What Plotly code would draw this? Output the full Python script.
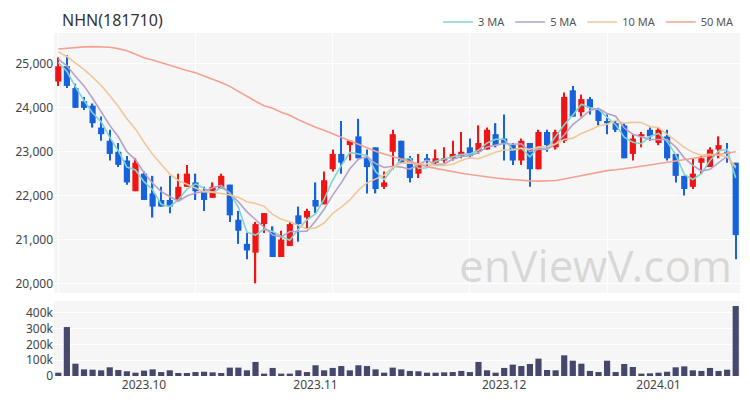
import plotly.graph_objects as go
import pandas as pd

# ---- data ----
day_index = list(range(80))
month_tick_index = [10, 30, 52, 70]
month_tick_labels = ["2023.10", "2023.11", "2023.12", "2024.01"]

open_ = [24600, 24950, 24450, 24150, 24050, 23550, 23250, 23000, 22800, 22100,
         22500, 22050, 21900, 21900, 21900, 22200, 22300, 22100, 21950, 22150,
         22250, 21450, 20900, 20700, 21350, 21150, 20600, 20850, 21550, 21500,
         21900, 21800, 22600, 22950, 23150, 23350, 22850, 23100, 22200, 23000,
         23250, 22850, 22500, 22850, 22750, 22800, 22850, 22900, 23100, 23000,
         23050, 23400, 23300, 23150, 22800, 23200, 22600, 23450, 23100, 23250,
         24400, 23900, 24200, 23950, 23700, 23650, 23600, 22950, 23350, 23500,
         23200, 23350, 22950, 22450, 22200, 22750, 22650, 23050, 23000, 22750]
high = [25150, 25200, 24550, 24250, 24100, 23800, 23500, 23200, 22900, 22850,
        22550, 22450, 22200, 22450, 22500, 22700, 22500, 22200, 22300, 22500,
        22250, 21650, 21150, 21400, 21600, 21300, 21200, 21400, 21750, 21700,
        22300, 22550, 23050, 23700, 23250, 23750, 23050, 23100, 22550, 23500,
        23250, 22900, 22950, 22950, 23050, 23100, 23250, 23450, 23300, 23600,
        23550, 23650, 23850, 23200, 23300, 23200, 23500, 23500, 23500, 24350,
        24500, 24300, 24250, 24000, 23850, 23700, 23650, 23400, 23450, 23550,
        23550, 23500, 22950, 22450, 22850, 22900, 23100, 23350, 23200, 22750]
low = [24500, 24450, 24000, 23950, 23550, 23250, 22800, 22650, 22250, 22100,
       21900, 21500, 21750, 21600, 21900, 22200, 21900, 21650, 21950, 22150,
       21400, 20900, 20550, 20000, 21150, 20600, 20600, 20850, 20950, 21250,
       21600, 21800, 22550, 22500, 22800, 22850, 22050, 22050, 22150, 22600,
       22750, 22300, 22400, 22650, 22700, 22750, 22800, 22850, 22850, 22950,
       23050, 23100, 22800, 22700, 22700, 22200, 22600, 23000, 23050, 23200,
       23800, 23800, 23850, 23600, 23400, 23450, 22850, 22800, 23100, 23250,
       23150, 22800, 22300, 22000, 22150, 22500, 22650, 22850, 22750, 20550]
close = [24950, 24500, 24000, 24000, 23650, 23400, 22950, 22700, 22300, 22750,
         21900, 21750, 21750, 21750, 22200, 22500, 22100, 21900, 22200, 22450,
         21550, 21200, 20750, 21350, 21600, 20600, 21000, 21350, 21350, 21650,
         21750, 22350, 22950, 22750, 23250, 22850, 22650, 22150, 22300, 23400,
         22750, 22400, 22700, 22800, 22850, 22850, 22950, 23000, 22900, 23200,
         23500, 23150, 23200, 22800, 23250, 22600, 23450, 23150, 23450, 24250,
         23800, 24200, 24000, 23700, 23650, 23500, 22850, 23300, 23400, 23350,
         23500, 22850, 22450, 22150, 22500, 22850, 23050, 23150, 22950, 21100]
# closes before the first visible day (for the short moving averages)
prior_closes = [25600, 25500, 25450, 25400, 25300, 25250, 25200, 25100, 25050]

volume = [21000, 310000, 78000, 42000, 40000, 36000, 55000, 38000, 30000, 21000,
          34000, 42000, 25000, 36000, 19000, 19000, 25000, 27000, 23000, 19000,
          53000, 53000, 36000, 89000, 15000, 51000, 15000, 15000, 36000, 25000,
          68000, 36000, 51000, 63000, 36000, 68000, 63000, 42000, 21000, 53000,
          42000, 32000, 30000, 21000, 21000, 23000, 25000, 32000, 25000, 89000,
          36000, 21000, 51000, 72000, 63000, 76000, 110000, 38000, 36000, 131000,
          97000, 78000, 32000, 25000, 97000, 25000, 76000, 57000, 15000, 17000,
          21000, 27000, 55000, 61000, 36000, 32000, 51000, 32000, 40000, 443000]

ma50 = [25340, 25360, 25380, 25390, 25395, 25390, 25380, 25350, 25300, 25220,
        25140, 25090, 25030, 24960, 24900, 24850, 24800, 24730, 24660, 24580,
        24490, 24370, 24260, 24150, 24050, 23990, 23900, 23830, 23730, 23640,
        23560, 23490, 23410, 23330, 23250, 23170, 23090, 23010, 22950, 22890,
        22830, 22770, 22710, 22660, 22620, 22580, 22545, 22510, 22480, 22450,
        22420, 22400, 22380, 22360, 22345, 22335, 22330, 22330, 22345, 22380,
        22420, 22460, 22500, 22540, 22570, 22590, 22610, 22640, 22670, 22700,
        22740, 22770, 22800, 22830, 22860, 22890, 22920, 22950, 22980, 23000]

y_ticks = [20000, 21000, 22000, 23000, 24000, 25000]
vol_ticks = [0, 100000, 200000, 300000, 400000]
grid_x_index = [0, 16, 32, 48, 64]

# ---- moving averages from the close series ----
full = pd.Series(prior_closes + close, dtype=float)
n_prior = len(prior_closes)
ma3 = full.rolling(3).mean().iloc[n_prior:].tolist()
ma5 = full.rolling(5).mean().iloc[n_prior:].tolist()
ma10 = full.rolling(10).mean().iloc[n_prior:].tolist()

UP = "#f01414"
DOWN = "#1662dc"

colors = [UP if c >= o else DOWN for o, c in zip(open_, close)]
body_base = [min(o, c) for o, c in zip(open_, close)]
body_len = [max(abs(c - o), 25) for o, c in zip(open_, close)]
wick_len = [h - l for h, l in zip(high, low)]

fig = go.Figure()
# wicks
fig.add_trace(go.Bar(x=day_index, y=wick_len, base=low, width=0.16,
                     marker=dict(color=colors, line=dict(width=0)),
                     showlegend=False, xaxis="x", yaxis="y", hoverinfo="skip"))
# bodies
fig.add_trace(go.Bar(x=day_index, y=body_len, base=body_base, width=0.72,
                     marker=dict(color=colors, line=dict(width=0)),
                     showlegend=False, xaxis="x", yaxis="y", hoverinfo="skip"))

ma_specs = [("3 MA", ma3, "#7fd6cf"), ("5 MA", ma5, "#b3a2cc"),
            ("10 MA", ma10, "#f0c898"), ("50 MA", ma50, "#f5a192")]
for name, vals, col in ma_specs:
    fig.add_trace(go.Scatter(x=day_index, y=vals, mode="lines", name=name,
                             line=dict(color=col, width=1.6), xaxis="x", yaxis="y",
                             hoverinfo="skip"))

fig.add_trace(go.Bar(x=day_index, y=volume, marker=dict(color="#45476b", line=dict(width=0)),
                     width=0.72, showlegend=False, xaxis="x2", yaxis="y2", hoverinfo="skip"))

# the page body adds an 8px offset, so the figure is 8px smaller and shifted
W, H = 742, 392
font_family = "Noto Sans, Roboto, sans-serif"
fig.update_layout(
    width=W, height=H,
    margin=dict(l=46, r=10, t=25, b=24, autoexpand=False),
    paper_bgcolor="white", plot_bgcolor="#f6f6f6",
    font=dict(family=font_family, size=12, color="#444"),
    barmode="overlay",
    title=dict(text="NHN(181710)", x=54/W, xref="container", xanchor="left",
               y=1-12/H, yref="container", yanchor="middle",
               font=dict(size=16, color="#333", family=font_family)),
    legend=dict(orientation="h", x=1, xanchor="right", y=1.032, yanchor="middle",
                font=dict(size=11, color="#555"), itemwidth=30, bgcolor="rgba(0,0,0,0)",
                traceorder="normal"),
    xaxis=dict(domain=[0, 1], range=[-0.5, 79.5], anchor="y", tickvals=grid_x_index,
               showticklabels=False, showgrid=True, gridcolor="white", gridwidth=1,
               zeroline=False, ticks="", automargin=False),
    yaxis=dict(domain=[0.242, 1], range=[19780, 25706], tickvals=y_ticks,
               tickformat=",", showgrid=True, gridcolor="white", gridwidth=1,
               zeroline=False, ticks="", tickfont=dict(size=12, color="#444"),
               automargin=False),
    xaxis2=dict(domain=[0, 1], range=[-0.5, 79.5], anchor="y2", tickvals=month_tick_index,
                ticktext=month_tick_labels, showgrid=False, zeroline=False, ticks="",
                tickfont=dict(size=12, color="#444"), automargin=False),
    yaxis2=dict(domain=[0, 0.2187], range=[0, 475000], tickvals=vol_ticks,
                ticktext=["0", "100k", "200k", "300k", "400k"], showgrid=True,
                gridcolor="white", zeroline=False, ticks="",
                tickfont=dict(size=12, color="#444"), automargin=False),
    annotations=[dict(text="enViewV.com", xref="paper", yref="paper",
                      x=0.790, y=0.325, showarrow=False,
                      font=dict(size=44, color="rgba(0,0,0,0.12)", family=font_family),
                      xanchor="center", yanchor="middle")],
)

fig.write_html("out.html")
